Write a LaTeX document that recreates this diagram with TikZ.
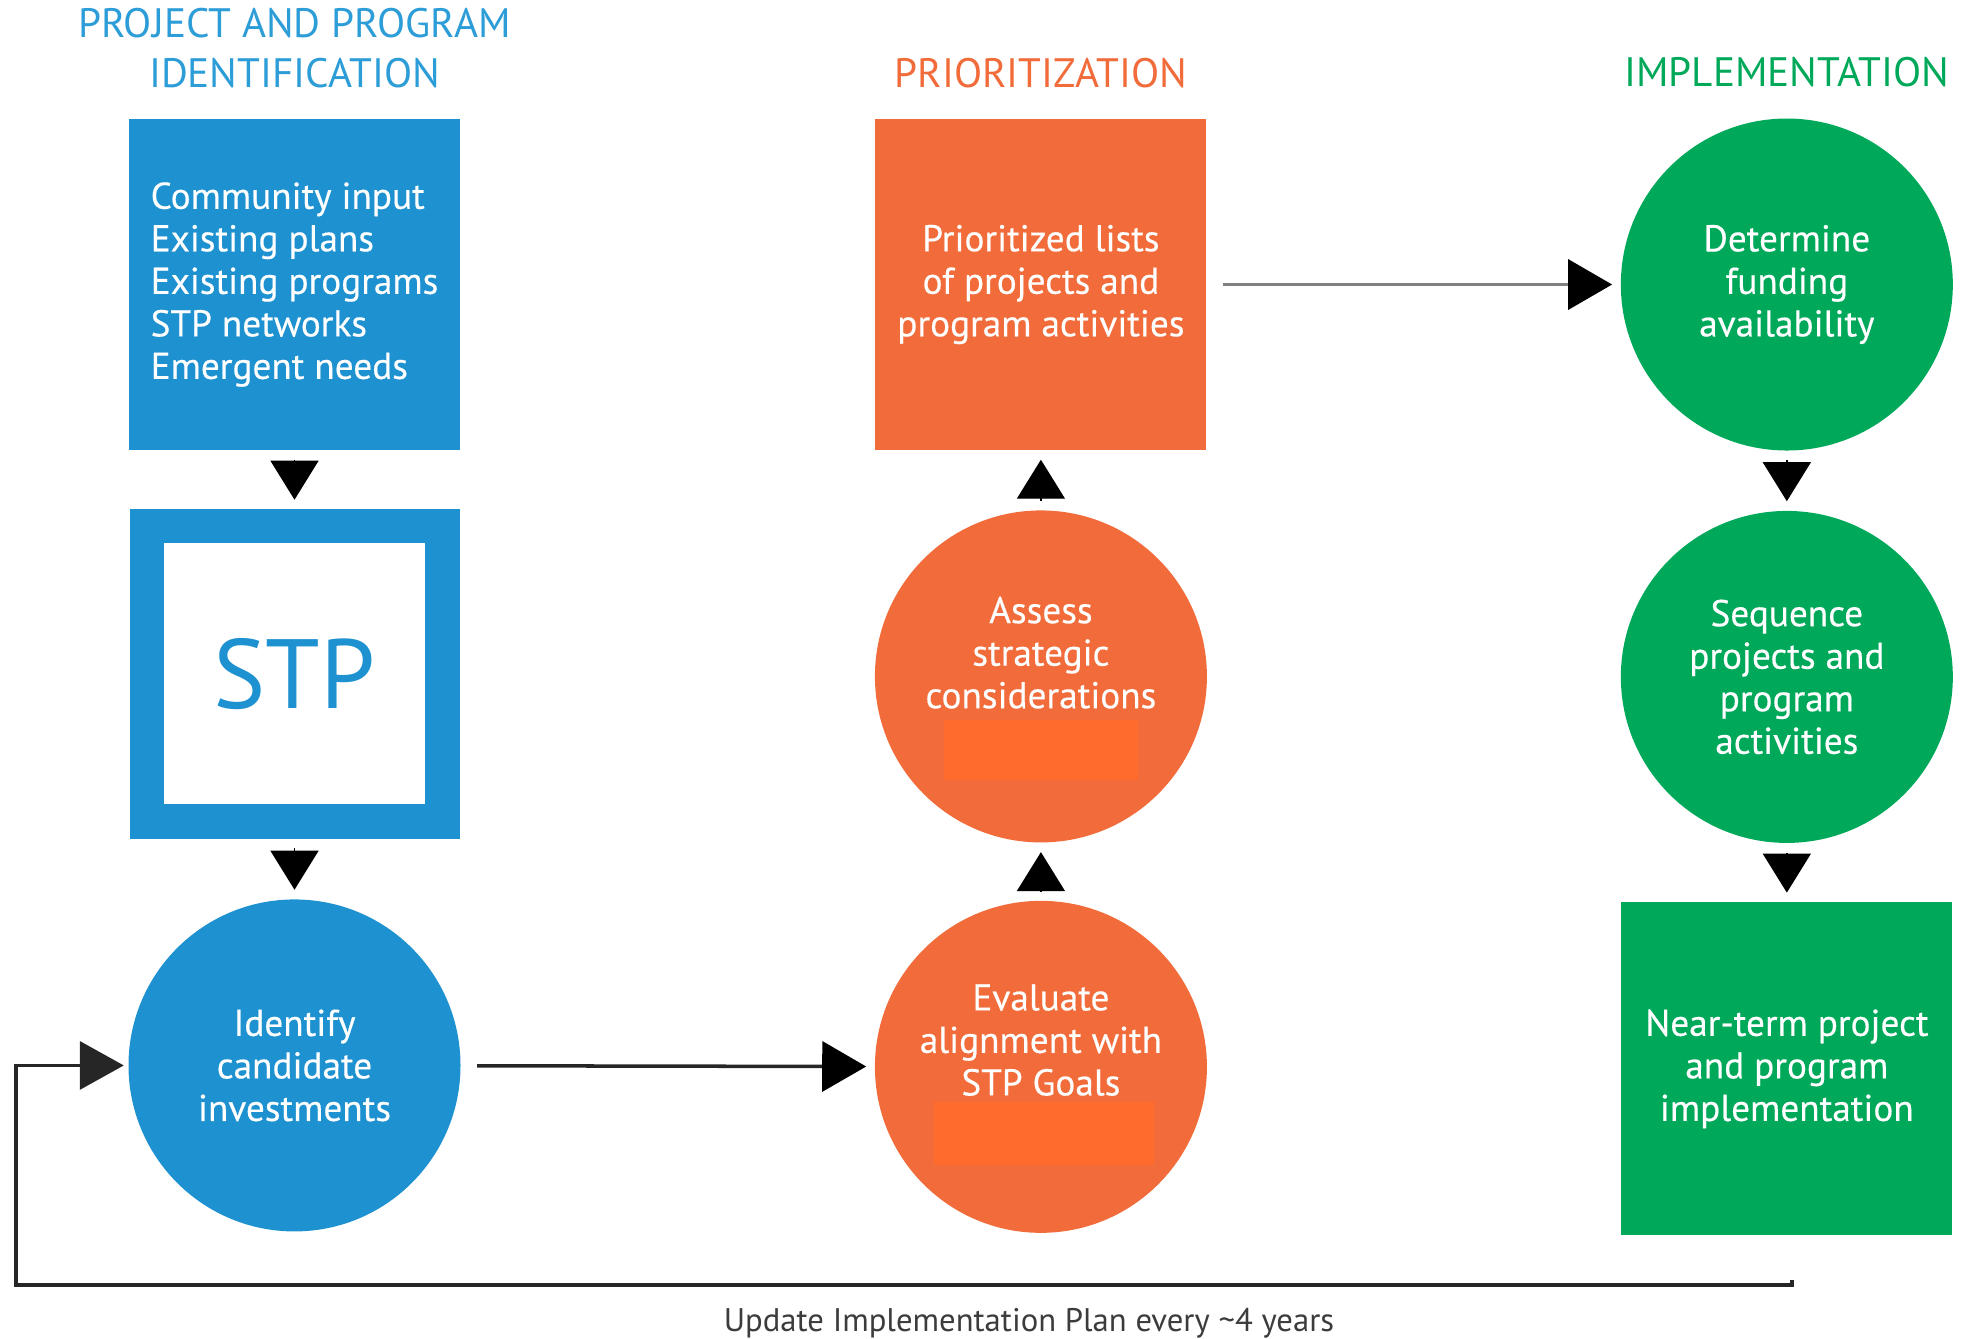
\documentclass[tikz,border=0pt]{standalone}
\usepackage{fontspec}
\setmainfont{PT Sans}
\newfontfamily\boxfont{PT Sans}[FakeBold=0.35]
\usetikzlibrary{positioning, arrows.meta}

\definecolor{stpblue}{RGB}{30,145,208}
\definecolor{headblue}{RGB}{45,157,216}
\definecolor{stporange}{RGB}{241,108,58}
\definecolor{stppatch}{RGB}{255,107,44}
\definecolor{stpgreen}{RGB}{0,168,90}
\definecolor{stpgray}{RGB}{60,60,60}

\tikzset{
  boxtext/.style={text=white, font=\boxfont\fontsize{10.6}{12.1}\selectfont, align=center, inner sep=0pt},
  sqbox/.style={boxtext, rectangle, minimum width=3.31cm, minimum height=3.31cm},
  roundbox/.style={boxtext, circle, minimum size=3.32cm},
  phase/.style={font=\fontsize{11.7}{14.2}\selectfont, align=center, inner sep=0pt},
  flowtip/.style={-{Triangle[length=0.39cm,width=0.48cm]}, line width=0.4pt, shorten <=0.09cm, shorten >=0.09cm},
  hline/.style={-{Triangle[length=0.44cm,width=0.50cm,color=black]}, line width=1pt},
  patch/.style={fill=stppatch, inner sep=0pt},
}

\begin{document}
\begin{tikzpicture}
  \useasboundingbox (0,0) rectangle (19.67,-13.38);

  % identification
  \node[sqbox, fill=stpblue, align=left] (inputs) at (2.945,-2.845) {Community input\\Existing plans\\Existing programs\\STP networks\\Emergent needs};
  \node[sqbox, draw=stpblue, line width=0.345cm, minimum width=2.955cm, minimum height=2.955cm, text=stpblue, font=\fontsize{28}{30}\selectfont, below=0.58cm of inputs] (stp) {STP};
  \node[roundbox, fill=stpblue, below=0.60cm of stp] (identify) {Identify\\candidate\\investments};

  % prioritization
  \node[sqbox, fill=stporange, right=4.14cm of inputs] (prio) {Prioritized lists\\of projects and\\program activities};
  \node[roundbox, fill=stporange, text depth=0.48cm, below=0.59cm of prio] (assess) {Assess\\strategic\\considerations};
  \node[roundbox, fill=stporange, text depth=0.54cm, below=0.57cm of assess] (evaluate) {Evaluate\\alignment with\\STP Goals};
  \node[patch, minimum width=1.94cm, minimum height=0.60cm] (assesspatch) at ([yshift=-0.74cm]assess.center) {};
  \node[patch, minimum width=2.20cm, minimum height=0.63cm] (evalpatch) at ([xshift=0.03cm,yshift=-0.665cm]evaluate.center) {};

  % implementation
  \node[roundbox, fill=stpgreen, right=4.13cm of prio] (funding) {Determine\\funding\\availability};
  \node[roundbox, fill=stpgreen, below=0.59cm of funding] (sequence) {Sequence\\projects and\\program\\activities};
  \node[sqbox, fill=stpgreen, minimum height=3.33cm, below=0.58cm of sequence] (nearterm) {Near-term project\\and program\\implementation};

  % headings
  \node[phase, text=headblue, above=0.30cm of inputs] (idhead) {PROJECT AND PROGRAM\\IDENTIFICATION};
  \node[phase, text=stporange, above=0.30cm of prio] (priohead) {PRIORITIZATION};
  \node[phase, text=stpgreen, above=0.30cm of funding] (implhead) {IMPLEMENTATION};

  % arrows
  \draw[flowtip] (inputs) -- (stp);
  \draw[flowtip] (stp) -- (identify);
  \draw[flowtip] (evaluate) -- (assess);
  \draw[flowtip] (assess) -- (prio);
  \draw[flowtip] (funding) -- (sequence);
  \draw[flowtip] (sequence) -- (nearterm);
  \draw[hline, draw=black!85, shorten <=0.16cm, shorten >=0.08cm] (identify) -- (evaluate);
  \draw[hline, draw=black!50, shorten <=0.16cm, shorten >=0.08cm] (prio) -- (funding);

  % update loop
  \coordinate[below right=0.44cm and 0.05cm of nearterm.south] (loopstart);
  \coordinate (loopcorner) at (0.16,-12.85);
  \draw[hline, -{Triangle[length=0.44cm,width=0.48cm]}, draw=black!85, shorten >=0.04cm] (loopstart) |- (loopcorner) |- (identify);
  \node[text=stpgray, font=\fontsize{9.3}{11}\selectfont, anchor=base] (loopnote) at (10.29,-13.31) {Update Implementation Plan every \textasciitilde 4 years};
\end{tikzpicture}
\end{document}
